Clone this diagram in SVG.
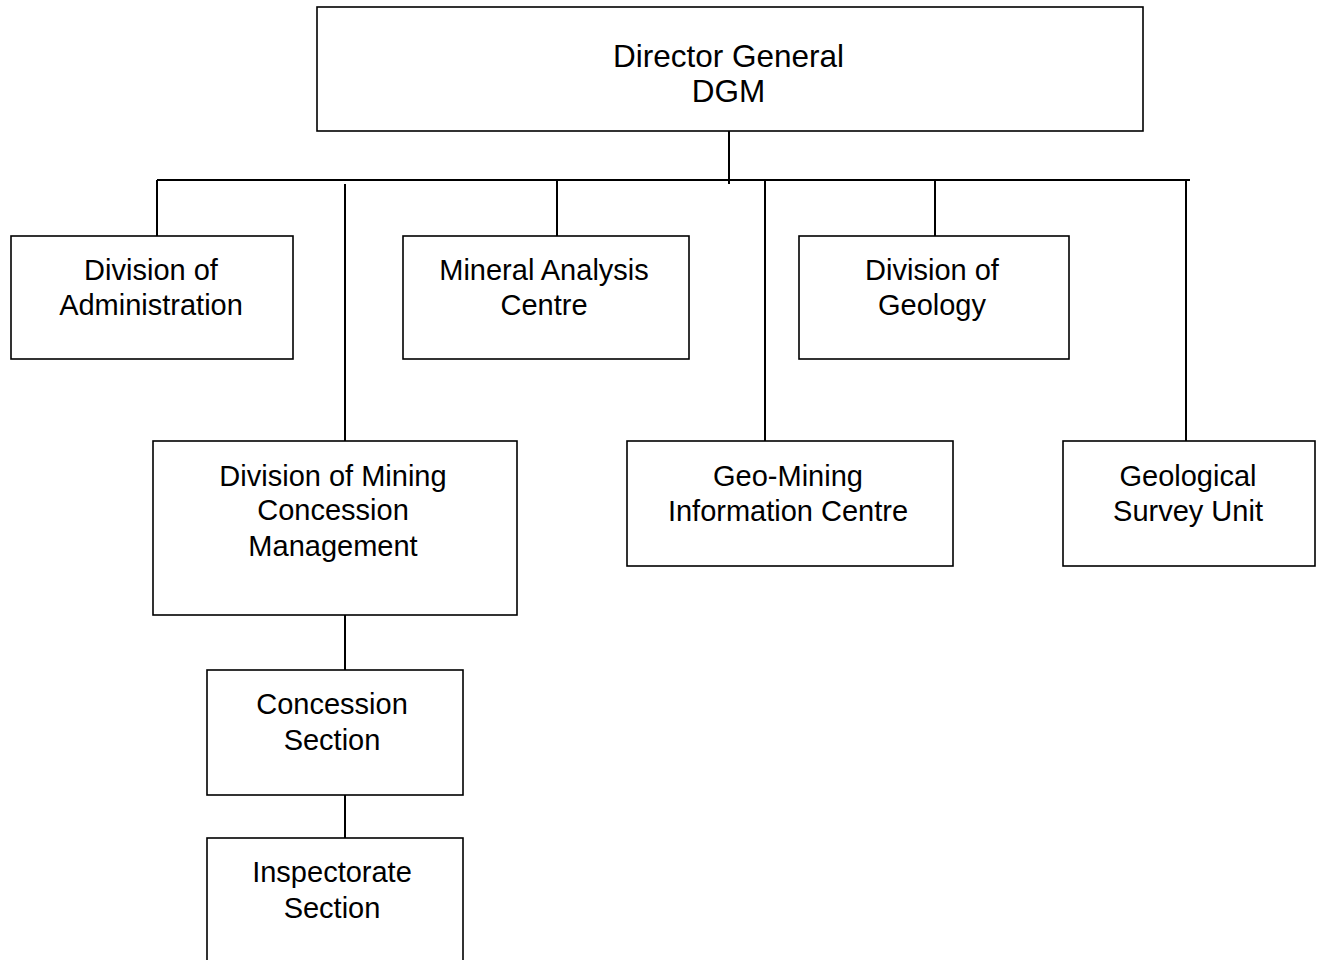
<svg xmlns="http://www.w3.org/2000/svg" width="1321" height="960" viewBox="0 0 1321 960">
<style>
.box{fill:#fff;stroke:#000;stroke-width:1.6}
.t{font-family:"Liberation Sans",Arial,sans-serif;font-size:29px;fill:#000;text-anchor:middle}
.big{font-size:31.5px}
.c{stroke:#000;stroke-width:2;fill:none}
</style>
<rect width="1321" height="960" fill="#fff"/>
<g id="connectors">
<line class="c" x1="729" y1="131" x2="729" y2="184"/>
<line class="c" x1="157" y1="180" x2="1190" y2="180"/>
<line class="c" x1="157" y1="180" x2="157" y2="236"/>
<line class="c" x1="345" y1="184" x2="345" y2="441"/>
<line class="c" x1="557" y1="180" x2="557" y2="236"/>
<line class="c" x1="765" y1="180" x2="765" y2="441"/>
<line class="c" x1="935" y1="180" x2="935" y2="236"/>
<line class="c" x1="1186" y1="180" x2="1186" y2="441"/>
<line class="c" x1="345" y1="615" x2="345" y2="670"/>
<line class="c" x1="345" y1="795" x2="345" y2="838"/>
</g>
<g id="dg">
<rect class="box" x="317" y="7" width="826" height="124"/>
<text class="t big" x="728.5" y="67">Director General</text>
<text class="t big" x="728.5" y="102">DGM</text>
</g>
<g id="admin">
<rect class="box" x="11" y="236" width="282" height="123"/>
<text class="t" x="151" y="280">Division of</text>
<text class="t" x="151" y="315">Administration</text>
</g>
<g id="mineral">
<rect class="box" x="403" y="236" width="286" height="123"/>
<text class="t" x="544" y="280">Mineral Analysis</text>
<text class="t" x="544" y="315">Centre</text>
</g>
<g id="geology">
<rect class="box" x="799" y="236" width="270" height="123"/>
<text class="t" x="932" y="280">Division of</text>
<text class="t" x="932" y="315">Geology</text>
</g>
<g id="mining">
<rect class="box" x="153" y="441" width="364" height="174"/>
<text class="t" x="333" y="486">Division of Mining</text>
<text class="t" x="333" y="520">Concession</text>
<text class="t" x="333" y="556">Management</text>
</g>
<g id="geomining">
<rect class="box" x="627" y="441" width="326" height="125"/>
<text class="t" x="788" y="486">Geo-Mining</text>
<text class="t" x="788" y="521">Information Centre</text>
</g>
<g id="survey">
<rect class="box" x="1063" y="441" width="252" height="125"/>
<text class="t" x="1188" y="486">Geological</text>
<text class="t" x="1188" y="521">Survey Unit</text>
</g>
<g id="concession">
<rect class="box" x="207" y="670" width="256" height="125"/>
<text class="t" x="332" y="714">Concession</text>
<text class="t" x="332" y="750">Section</text>
</g>
<g id="inspectorate">
<rect class="box" x="207" y="838" width="256" height="130"/>
<text class="t" x="332" y="882">Inspectorate</text>
<text class="t" x="332" y="918">Section</text>
</g>
</svg>
